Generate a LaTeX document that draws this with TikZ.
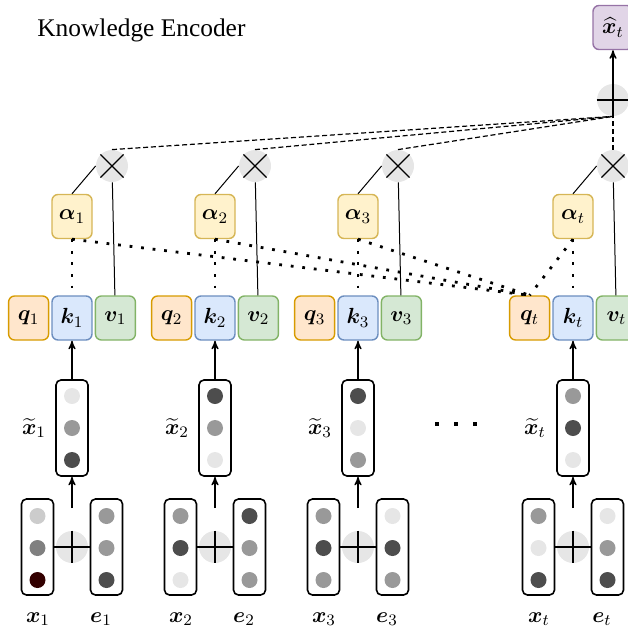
\documentclass[tikz,border=0pt]{standalone}
\usepackage{amsmath,amssymb}
\usepackage{bm}
\usepackage{fontspec}
\setmainfont{Liberation Serif}
\usepackage{xcolor}
\usetikzlibrary{arrows, positioning}

\definecolor{qfill}{HTML}{FFE6CC}\definecolor{qline}{HTML}{D79B00}
\definecolor{kfill}{HTML}{DAE8FC}\definecolor{kline}{HTML}{6C8EBF}
\definecolor{vfill}{HTML}{D5E8D4}\definecolor{vline}{HTML}{82B366}
\definecolor{afill}{HTML}{FFF2CC}\definecolor{aline}{HTML}{D6B656}
\definecolor{hfill}{HTML}{E1D5E7}\definecolor{hline}{HTML}{9673A6}
\definecolor{opgray}{HTML}{E6E6E6}
\definecolor{dlight}{HTML}{E6E6E6}
\definecolor{dmid}{HTML}{999999}
\definecolor{ddark}{HTML}{4D4D4D}
\definecolor{dpale}{HTML}{CCCCCC}
\definecolor{dgray}{HTML}{808080}
\definecolor{dred}{HTML}{330000}

\begin{document}
\begin{tikzpicture}[x=0.5pt, y=-0.5pt, node distance=1pt, font=\fontsize{11}{13}\selectfont]
    % Styles
    \tikzstyle{cell} = [rectangle, draw, rounded corners=3pt, minimum width=20pt, minimum height=22pt, inner sep=0pt, line width=0.7pt]
    \tikzstyle{qcell} = [cell, fill=qfill, draw=qline]
    \tikzstyle{kcell} = [cell, fill=kfill, draw=kline]
    \tikzstyle{vcell} = [cell, fill=vfill, draw=vline]
    \tikzstyle{acell} = [cell, fill=afill, draw=aline]
    \tikzstyle{hcell} = [cell, fill=hfill, draw=hline]
    \tikzstyle{vec} = [rectangle, draw, rounded corners=2.5pt, line width=0.8pt, minimum width=16pt, minimum height=48pt, inner sep=0pt]
    \tikzstyle{dotnode} = [circle, inner sep=0pt, minimum size=8pt]
    \tikzstyle{opcircle} = [circle, fill=opgray, inner sep=0pt, minimum size=16pt]
    \tikzstyle{label} = [inner sep=1pt]
    \tikzstyle{line} = [draw, -stealth', line width=0.6pt]
    \tikzstyle{attn} = [draw, line width=1.4pt, dash pattern=on 1.4pt off 4.4pt]
    \tikzstyle{sum} = [draw, line width=0.6pt, dash pattern=on 2.5pt off 1.4pt]

    \useasboundingbox (0,0) rectangle (627,632);

    % Title
    \node[anchor=west, inner sep=0pt, font=\fontsize{12.7}{15}\selectfont] (title) at (37,30) {Knowledge Encoder};

    % Nodes
    \foreach \i/\cx/\ta/\tb/\tc/\xa/\xb/\xc/\ea/\eb/\ec in {
        1/72/dlight/dmid/ddark/dpale/dgray/dred/dmid/dmid/ddark,
        2/215/ddark/dmid/dlight/dmid/ddark/dlight/ddark/dmid/dmid,
        3/358/ddark/dlight/dmid/dmid/ddark/dmid/dlight/ddark/dmid,
        t/573/dmid/ddark/dlight/dmid/dlight/ddark/dlight/dmid/ddark} {
        \node[kcell] (k\i) at (\cx,318) {$\bm{k}_{\i}$};
        \node[qcell, left=of k\i] (q\i) {$\bm{q}_{\i}$};
        \node[vcell, right=of k\i] (v\i) {$\bm{v}_{\i}$};
        \node[acell] (a\i) at (\cx,216.5) {$\bm{\alpha}_{\i}$};
        \node[opcircle] (mul\i) at (\cx+40,166) {};
        % embedded vector
        \node[vec] (xt\i) at (\cx,428) {};
        \node[dotnode, fill=\ta] (xt\i a) at (\cx,396) {};
        \node[dotnode, fill=\tb] (xt\i b) at (\cx,428) {};
        \node[dotnode, fill=\tc] (xt\i c) at (\cx,460) {};
        \node[label] (lxt\i) at (\cx-38,428) {$\widetilde{\bm{x}}_{\i}$};
        % inputs
        \node[vec] (x\i) at (\cx-34.5,547) {};
        \node[dotnode, fill=\xa] (x\i a) at (\cx-34.5,516) {};
        \node[dotnode, fill=\xb] (x\i b) at (\cx-34.5,548) {};
        \node[dotnode, fill=\xc] (x\i c) at (\cx-34.5,580) {};
        \node[vec] (e\i) at (\cx+34.5,547) {};
        \node[dotnode, fill=\ea] (e\i a) at (\cx+34.5,516) {};
        \node[dotnode, fill=\eb] (e\i b) at (\cx+34.5,548) {};
        \node[dotnode, fill=\ec] (e\i c) at (\cx+34.5,580) {};
        \node[opcircle] (add\i) at (\cx,547) {};
        \coordinate (s\i) at (\cx,508);
        \node[label] (lx\i) at (\cx-34,619) {$\bm{x}_{\i}$};
        \node[label] (le\i) at (\cx+29,619) {$\bm{e}_{\i}$};
    }
    \node[opcircle] (total) at (613,100) {};
    \node[hcell] (xh) at (613,27.5) {$\widehat{\bm{x}}_t$};
    \foreach \j/\dx in {1/437,2/456,3/475}
        \node[rectangle, fill, inner sep=0pt, minimum size=2.4pt] (dots\j) at (\dx,424) {};

    % Paths
    \foreach \i in {1,2,3,t} {
        \path [line] (s\i) -- (xt\i.south);
        \path [line] (xt\i) -- (k\i);
        \draw [line width=0.6pt] (x\i.east) -- (e\i.west);
        \draw [line width=0.6pt] (add\i.north) -- (add\i.south);
        \draw [line width=0.6pt] (mul\i.north west) -- (mul\i.south east);
        \draw [line width=0.6pt] (mul\i.north east) -- (mul\i.south west);
        \draw [line width=0.5pt] (a\i.north) -- (mul\i.west);
        \draw [line width=0.5pt] (mul\i) -- (v\i);
        \path [attn] (a\i.south) -- (k\i.north);
        \path [attn] (a\i.south) -- (qt.north);
        \path [sum] (mul\i.north) -- (total.south);
    }
    \draw [line width=0.6pt] (total.north) -- (total.south);
    \draw [line width=0.6pt] (total.west) -- (total.east);
    \path [line] (total) -- (xh);
\end{tikzpicture}
\end{document}
